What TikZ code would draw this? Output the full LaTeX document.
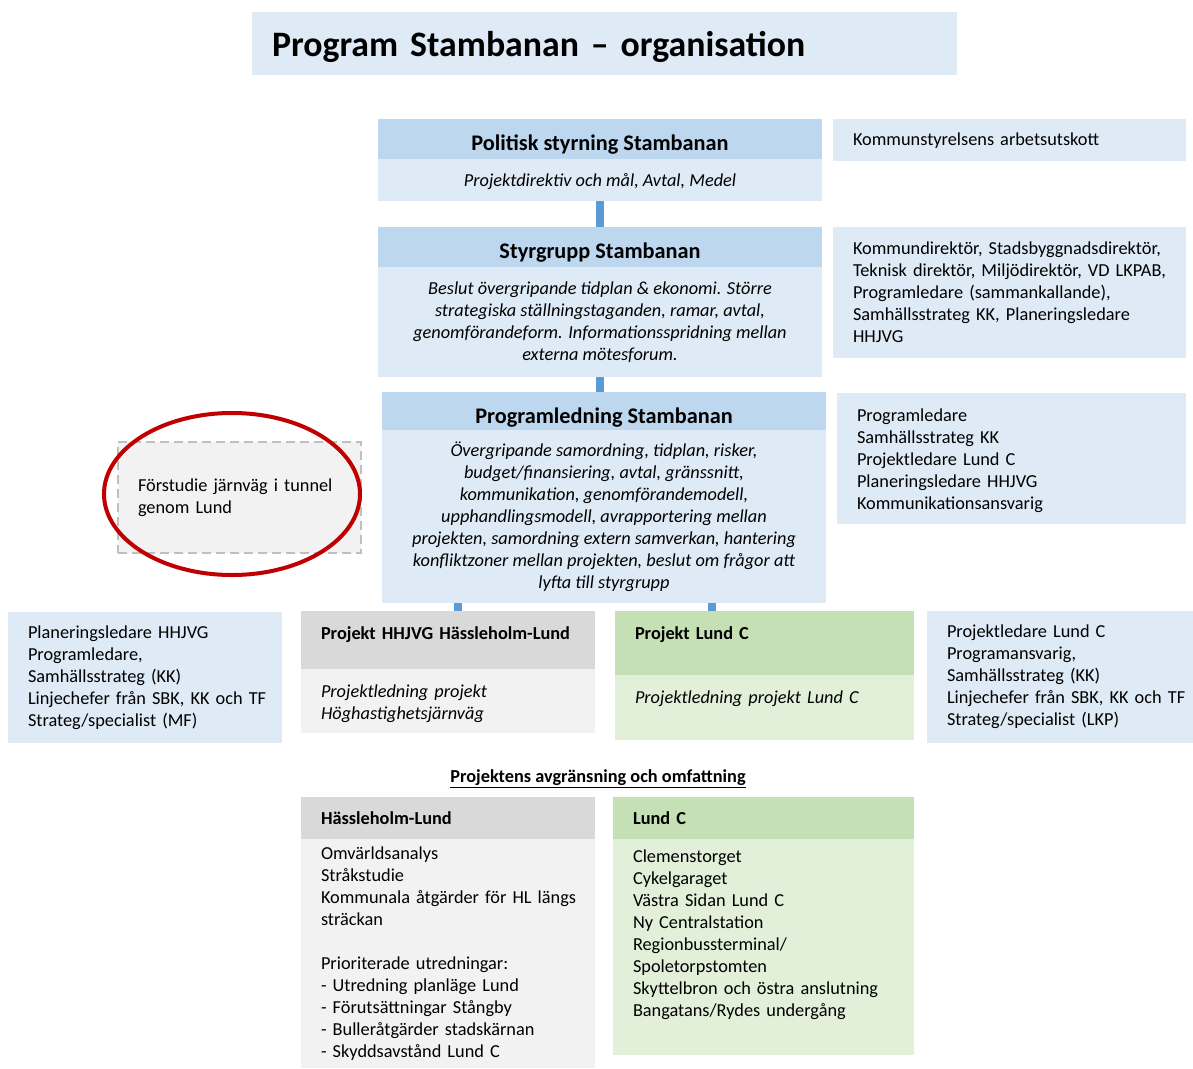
\documentclass[tikz,border=0pt]{standalone}
\usepackage{fontspec}
\setmainfont{Carlito}
\usetikzlibrary{shapes.geometric}

\definecolor{hdrblue}{HTML}{BDD7EE}
\definecolor{bodyblue}{HTML}{DEEBF7}
\definecolor{linkblue}{HTML}{5B9BD5}
\definecolor{hdrgray}{HTML}{D9D9D9}
\definecolor{bodygray}{HTML}{F2F2F2}
\definecolor{hdrgreen}{HTML}{C5E0B4}
\definecolor{bodygreen}{HTML}{E2F0D9}
\definecolor{ringred}{HTML}{C00000}
\definecolor{dashgray}{HTML}{BFBFBF}

\newcommand{\txtsize}{\fontsize{18.3}{22}\selectfont}
\newcommand{\hdrsize}{\fontsize{22.3}{26}\selectfont}

\tikzset{
  box/.style={anchor=north west, inner sep=0pt, outer sep=0pt},
  hdr/.style={box, fill=hdrblue, minimum width=444pt, text height=31pt, text depth=9pt, font=\hdrsize\bfseries},
  sub/.style={box, fill=bodyblue, minimum width=444pt, align=center, font=\txtsize\itshape},
  nowrap/.style={execute at begin node={\frenchspacing\rightskip=0pt plus 1fil minus 100pt}},
  side/.style={box, fill=bodyblue, inner xsep=20pt, align=left, font=\txtsize, nowrap},
  proj/.style={box, inner xsep=20pt, align=left, font=\txtsize, nowrap},
  link/.style={draw=linkblue, line width=8pt},
}

\begin{document}
\begin{tikzpicture}[x=1pt,y=-1pt]
\useasboundingbox (0,0) rectangle (1193,1068);

\node[box, fill=bodyblue, minimum width=705pt, inner xsep=20pt, text width=665pt, align=left,
  text height=44pt, text depth=19pt, font=\fontsize{35.8}{40}\selectfont\bfseries] (title) at (252,12)
  {Program Stambanan – organisation};

% politisk styrning
\node[hdr] (polhdr) at (378,119) {Politisk styrning Stambanan};
\node[sub, text height=27pt, text depth=15pt] (polsub) at (378,159) {Projektdirektiv och mål, Avtal, Medel};
\node[side, text width=313pt, text height=26pt, text depth=16pt] (polside) at (833,119) {Kommunstyrelsens arbetsutskott};

% styrgrupp
\node[hdr] (styhdr) at (378,227) {Styrgrupp Stambanan};
\node[sub, minimum height=110pt] (stysub) at (378,267) {Beslut övergripande tidplan \& ekonomi. Större\\
  strategiska ställningstaganden, ramar, avtal,\\
  genomförandeform. Informationsspridning mellan\\
  externa mötesforum.};
\node[side, text width=313pt, minimum height=131pt] (styside) at (833,227) {Kommundirektör, Stadsbyggnadsdirektör,\\
  Teknisk direktör, Miljödirektör, VD LKPAB,\\
  Programledare (sammankallande),\\
  Samhällsstrateg KK, Planeringsledare\\
  HHJVG};

% programledning
\node[hdr, text depth=7pt] (prghdr) at (382,392) {Programledning Stambanan};
\node[sub, minimum height=173pt] (prgsub) at (382,430) {Övergripande samordning, tidplan, risker,\\
  budget/finansiering, avtal, gränssnitt,\\
  kommunikation, genomförandemodell,\\
  upphandlingsmodell, avrapportering mellan\\
  projekten, samordning extern samverkan, hantering\\
  konfliktzoner mellan projekten, beslut om frågor att\\
  lyfta till styrgrupp};
\node[side, text width=309pt, text height=28pt, text depth=103pt] (prgside) at (837,393) {Programledare\\
  Samhällsstrateg KK\\
  Projektledare Lund C\\
  Planeringsledare HHJVG\\
  Kommunikationsansvarig};

\node[proj, fill=bodygray, draw=dashgray, dash pattern=on 9pt off 5pt, line width=2.5pt, minimum width=243pt,
  minimum height=111pt, text width=203pt] (fs) at (118,442) {Förstudie järnväg i tunnel\\ genom Lund};
\node[draw=ringred, line width=4pt, ellipse, minimum width=256pt, minimum height=162pt,
  inner sep=0pt] (ring) at ([xshift=-7.5pt,yshift=3.5pt]fs.center) {};

% projekt
\node[side, text width=234pt, minimum height=131pt] (hhside) at (8,612) {Planeringsledare HHJVG\\
  Programledare,\\
  Samhällsstrateg (KK)\\
  Linjechefer från SBK, KK och TF\\
  Strateg/specialist (MF)};
\node[proj, fill=hdrgray, text width=254pt, text height=28pt, text depth=30pt, font=\txtsize\bfseries]
  (hhhdr) at (301,611) {Projekt HHJVG Hässleholm-Lund};
\node[proj, fill=bodygray, text width=254pt, text height=28pt, text depth=36pt, font=\txtsize\itshape]
  (hhsub) at (301,669) {Projektledning projekt\\ Höghastighetsjärnväg};

\node[proj, fill=hdrgreen, text width=259pt, text height=28pt, text depth=36pt, font=\txtsize\bfseries]
  (lchdr) at (615,611) {Projekt Lund C};
\node[proj, fill=bodygreen, text width=259pt, text height=28pt, text depth=37pt, font=\txtsize\itshape]
  (lcsub) at (615,675) {Projektledning projekt Lund C};
\node[side, text width=226pt, minimum height=132pt] (lcside) at (927,611) {Projektledare Lund C\\
  Programansvarig,\\
  Samhällsstrateg (KK)\\
  Linjechefer från SBK, KK och TF\\
  Strateg/specialist (LKP)};

\draw[link] (polsub.south) -- (styhdr.north);
\draw[link] (stysub.south) -- (stysub.south |- prghdr.north);
\draw[link] ([xshift=10pt]hhhdr.north) -- ([xshift=10pt]hhhdr.north |- prgsub.south);
\draw[link] ([xshift=-52.5pt]lchdr.north) -- ([xshift=-52.5pt]lchdr.north |- prgsub.south);

% avgränsning
\node[font=\txtsize\bfseries] (scopehd) at (598,779)
  {\underline{Projektens avgränsning och omfattning}};

\node[proj, fill=hdrgray, text width=254pt, minimum height=42pt, font=\txtsize\bfseries]
  (hlhdr) at (301,797) {Hässleholm-Lund};
\node[proj, fill=bodygray, text width=254pt, text height=20pt, text depth=209pt] (hlsub) at (301,839)
  {Omvärldsanalys\\
  Stråkstudie\\
  Kommunala åtgärder för HL längs\\
  sträckan\\[22pt]
  Prioriterade utredningar:\\
  - Utredning planläge Lund\\
  - Förutsättningar Stångby\\
  - Bulleråtgärder stadskärnan\\
  - Skyddsavstånd Lund C};

\node[proj, fill=hdrgreen, text width=261pt, minimum height=42pt, font=\txtsize\bfseries]
  (lcbhdr) at (613,797) {Lund C};
\node[proj, fill=bodygreen, text width=261pt, text height=23pt, text depth=193pt] (lcbsub) at (613,839)
  {Clemenstorget\\
  Cykelgaraget\\
  Västra Sidan Lund C\\
  Ny Centralstation\\
  Regionbussterminal/\\
  Spoletorpstomten\\
  Skyttelbron och östra anslutning\\
  Bangatans/Rydes undergång};
\end{tikzpicture}
\end{document}
